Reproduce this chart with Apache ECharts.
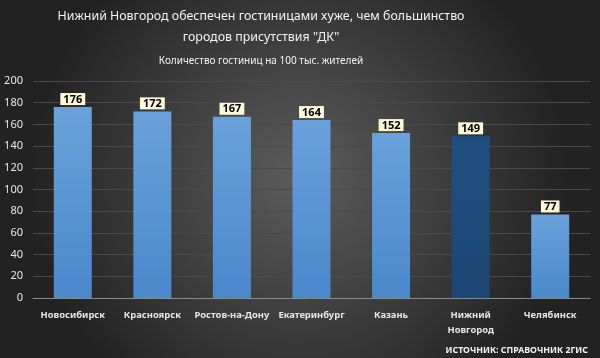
<!DOCTYPE html>
<html><head><meta charset="utf-8">
<script src="https://cdn.jsdelivr.net/npm/echarts@6/dist/echarts.min.js"></script>
<style>html,body{margin:0;padding:0;background:#333;}#c{width:600px;height:358px;}</style>
</head><body><div id="c"></div>
<script>
const categories = ['Новосибирск','Красноярск','Ростов-на-Дону','Екатеринбург','Казань','Нижний\nНовгород','Челябинск'];
const values = [176,172,167,164,152,149,77];
const highlightIndex = 5;
const yTicks = {min:0,max:200,interval:20};
const titleLines = ['Нижний Новгород обеспечен гостиницами хуже, чем большинство','городов присутствия "ДК"'];
const subtitle = 'Количество гостиниц на 100 тыс. жителей';
const sourceText = 'ИСТОЧНИК: СПРАВОЧНИК 2ГИС';

const chart = echarts.init(document.getElementById('c'), null, {renderer:'canvas'});
const F = '"Noto Sans", sans-serif';
const lightGrad = new echarts.graphic.LinearGradient(0,0,0,1,[{offset:0,color:'#6aa1db'},{offset:1,color:'#4a87cb'}]);
const darkGrad = new echarts.graphic.LinearGradient(0,0,0,1,[{offset:0,color:'#1f4f80'},{offset:1,color:'#1c4673'}]);
const txt = (t,x,y,size,weight,align)=>({type:'text',x:x,y:y,style:{text:t,fill:'#f2f2f2',font:`${weight} ${size}px ${F}`,textAlign:align||'center',textVerticalAlign:'middle'}});
chart.setOption({
  backgroundColor: new echarts.graphic.RadialGradient(0.5,0.5,0.75,[{offset:0,color:'#5c5c5c'},{offset:1,color:'#222222'}]),
  graphic:[
    txt(titleLines[0],261,16,12.4,'normal'),
    txt(titleLines[1],261,37,12.4,'normal'),
    txt(subtitle,261,61,10,'normal'),
    txt(sourceText,588,350,8.8,'bold','right')
  ],
  grid:{left:33,right:10,top:81,bottom:60},
  xAxis:{type:'category',data:categories,
    axisLine:{lineStyle:{color:'#8a8a8a'}},axisTick:{show:false},
    axisLabel:{color:'#e6e6e6',fontFamily:F,fontSize:9.4,fontWeight:'bold',margin:10,lineHeight:15,interval:0}},
  yAxis:{type:'value',min:yTicks.min,max:yTicks.max,interval:yTicks.interval,
    axisLine:{show:false},axisTick:{show:false},
    axisLabel:{color:'#e6e6e6',fontFamily:F,fontSize:11,margin:10},
    splitLine:{lineStyle:{color:'#4a4a4a'}}},
  series:[{type:'bar',barWidth:38,
    data:values.map((v,i)=>({value:v,itemStyle:{color:i===highlightIndex?darkGrad:lightGrad}})),
    label:{show:true,position:'top',distance:2,color:'#000',fontFamily:F,fontSize:11,fontWeight:'bold',
      backgroundColor:'#fdf8d8',padding:[1,3,0,3]}}]
});
</script></body></html>
